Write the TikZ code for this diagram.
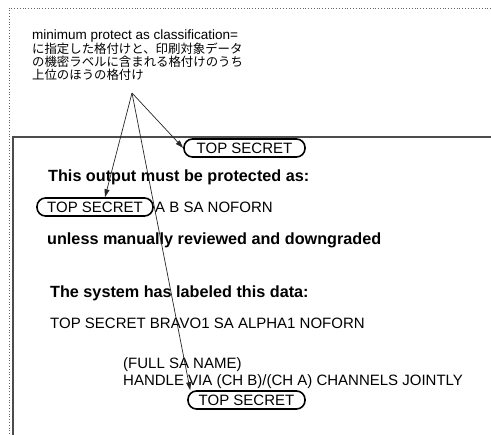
\documentclass[tikz,border=0pt]{standalone}
\usepackage{fontspec}
\setmainfont{Liberation Sans}
\newfontfamily\jpfont{Noto Sans CJK JP}
\usetikzlibrary{arrows.meta}
\begin{document}
\begin{tikzpicture}[x=1pt,y=-1pt,
  txt/.style={anchor=west,inner sep=0pt,font=\fontsize{15}{15}\selectfont},
  boldtxt/.style={anchor=west,inner sep=0pt,font=\fontsize{16.2}{16}\selectfont\bfseries},
  notelatin/.style={anchor=west,inner sep=0pt,font=\fontsize{13.5}{13.5}\selectfont},
  notejp/.style={anchor=west,inner sep=0pt,font=\jpfont\fontsize{12.4}{12.4}\selectfont},
  oval/.style={draw=black,line width=1.6pt,rounded corners=8.5pt,minimum height=18pt,inner sep=0pt,font=\fontsize{15}{15}\selectfont},
  pointer/.style={draw=black!85,line width=0.7pt,-{Triangle[length=8pt,width=5pt]}},
  frameline/.style={draw=black!70,line width=2pt},
  outerline/.style={draw=black!60,line width=0.8pt,dotted}]
\useasboundingbox (0,0) rectangle (491,435);
% outer dotted border
\coordinate (otl) at (9,8);
\coordinate (otr) at (491,8);
\coordinate (obl) at (9,435);
\draw[outerline] (otr) -- (otl) -- (obl);
% inner frame
\coordinate (itl) at (13,137);
\coordinate (itr) at (491,137);
\coordinate (ibl) at (13,435);
\draw[frameline] (itr) -- (itl) -- (ibl);
% annotation
\node[notelatin] (n1) at (32,36) {minimum protect as classification=};
\node[notejp] (n2) at (32,49) {に指定した格付けと、印刷対象データ};
\node[notejp] (n3) at (32,62) {の機密ラベルに含まれる格付けのうち};
\node[notejp] (n4) at (32,75) {上位のほうの格付け};
\coordinate (apex) at (132,93);
% page content
\node[oval,minimum width=121pt] (topoval) at (244.5,148) {TOP SECRET};
\node[boldtxt] (l1) at (48,177) {This output must be protected as:};
\node[oval,minimum width=116pt] (leftoval) at (95,207) {TOP SECRET};
\node[txt] (l2) at (155,207) {A B SA NOFORN};
\node[boldtxt] (l3) at (47,240) {unless manually reviewed and downgraded};
\node[boldtxt] (l4) at (50,293) {The system has labeled this data:};
\node[txt] (l5) at (50,323) {TOP SECRET BRAVO1 SA ALPHA1 NOFORN};
\node[txt] (l6) at (123,365) {(FULL SA NAME)};
\node[txt] (l7) at (123,382) {HANDLE VIA (CH B)/(CH A) CHANNELS JOINTLY};
\node[oval,minimum width=117pt] (botoval) at (246.5,400) {TOP SECRET};
% pointers
\draw[pointer] (apex) -- (topoval.west);
\draw[pointer] (apex) -- ([xshift=10pt]leftoval.north);
\draw[pointer] (apex) -- ([xshift=3pt]botoval.north west);
\end{tikzpicture}
\end{document}
